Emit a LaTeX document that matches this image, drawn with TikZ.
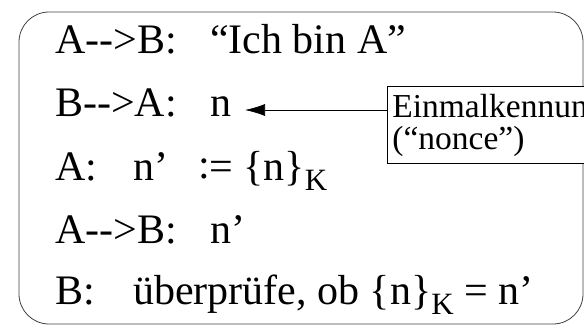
\documentclass[tikz,border=0pt]{standalone}
\usepackage{fontspec}
\setmainfont{Liberation Serif}
\usetikzlibrary{arrows.meta,positioning}

\newcommand{\subK}{\raisebox{-10pt}{\fontsize{31}{31}\selectfont K}}

\begin{document}
\begin{tikzpicture}[x=1pt,y=-1pt,>={Latex[length=20pt,width=12pt]},
  msg/.style={anchor=base west, inner sep=0pt, font=\fontsize{42}{46}\selectfont},
  note/.style={draw, fill=white, align=left, anchor=north west, inner xsep=5pt,
    inner ysep=7.5pt, minimum height=77pt, line width=0.8pt,
    font=\fontsize{33.5}{32}\selectfont}]
\useasboundingbox (0,0) rectangle (584,325);
\clip (0,0) rectangle (584,325);
% frame
\draw[gray!50!black, line width=0.8pt, rounded corners=30pt] (19,12) rectangle (583,324);
% protocol steps
\node[msg] (ab1) at (55,53) {\makebox[155pt][l]{A-{}->B:}“Ich bin A”};
\node[msg] (ba) at (55,116) {\makebox[155pt][l]{B-{}->A:}n};
\node[msg] (a) at (55,180) {\makebox[78pt][l]{A:}n’\hspace{30pt}\raisebox{1.5pt}{:}=\hspace{10pt}\{n\}\subK};
\node[msg] (ab2) at (55,243) {\makebox[155pt][l]{A-{}->B:}n’};
\node[msg] (b) at (55,304) {\makebox[78pt][l]{B:}überprüfe, ob \{n\}\subK{} = n’};
% nonce remark
\node[note] (nonce) at (387,86) {Einmalkennung\\(“nonce”)};
\coordinate (tip) at (245,110);
\draw[->, line width=0.7pt] (nonce.west |- tip) -- (tip);
\end{tikzpicture}
\end{document}
